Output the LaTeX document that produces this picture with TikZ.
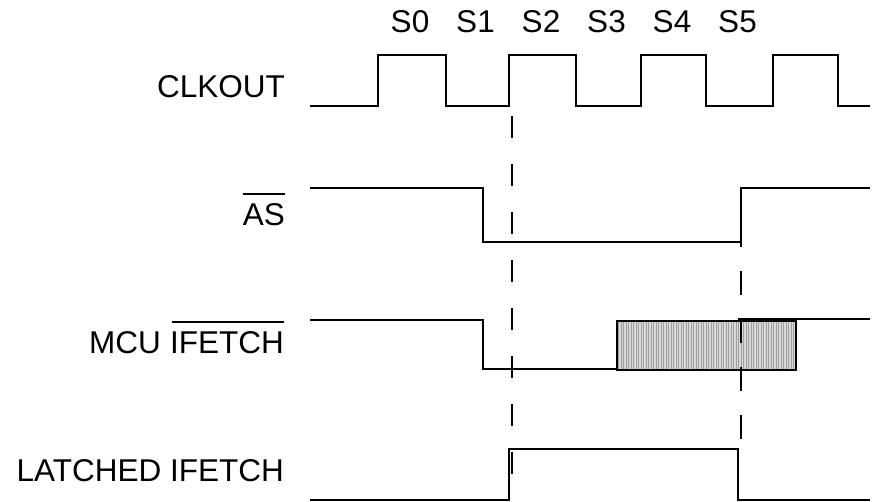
\documentclass[tikz,border=0pt]{standalone}
\usepackage{fontspec}
\setmainfont{Liberation Sans}
\begin{document}
\begin{tikzpicture}[x=1pt,y=-1pt,line join=miter,
  wave/.style={line width=2.2pt},
  boxline/.style={line width=2.6pt},
  guide/.style={line width=2.2pt, dash pattern=on 22pt off 26pt},
  lbl/.style={inner sep=0pt, font=\fontsize{31.5}{36}\selectfont, anchor=base east},
  slbl/.style={inner sep=0pt, font=\fontsize{31.5}{36}\selectfont, anchor=base},
  bar/.style={line width=2pt}]
\useasboundingbox (0,0) rectangle (873,502);

% state labels
\foreach \k in {0,...,5}{
  \node[slbl] (s\k) at ({410+65.5*\k},33) {S\k};
}

% signal names
\node[lbl] (clk) at (285,98) {CLKOUT};
\node[lbl] (as) at (285,226) {AS};
\draw[bar] ([yshift=10pt]as.north west) -- ([yshift=10pt]as.north east);
\node[lbl] (ifetch) at (284,354) {IFETCH};
\node[lbl] (mcu) at ([xshift=-8.8pt]ifetch.base west) {MCU};
\draw[bar] ([yshift=10pt,xshift=2pt]ifetch.north west) -- ([yshift=10pt]ifetch.north east);
\node[lbl] (latched) at (284,482) {LATCHED IFETCH};

% CLKOUT
\draw[wave] (310,106) -- (378,106) -- (378,55) -- (446,55) -- (446,106)
  -- (509,106) -- (509,55) -- (576,55) -- (576,106)
  -- (641,106) -- (641,55) -- (706,55) -- (706,106)
  -- (773,106) -- (773,55) -- (838,55) -- (838,106) -- (870,106);

% AS
\draw[wave] (310,188) -- (483,188) -- (483,242) -- (741,242) -- (741,188) -- (870,188);

% MCU IFETCH
\draw[wave] (310,320) -- (483,320) -- (483,369) -- (617,369);
\fill[gray!30] (617,321) rectangle (796,370);
\foreach \x in {618.5,621,...,795}{
  \draw[gray!75,line width=0.8pt] (\x,321) -- (\x,370);
}
\draw[boxline] (617,321) rectangle (796,370);
\draw[wave] (738,319) -- (870,319);

% LATCHED IFETCH
\draw[wave] (310,500) -- (509,500) -- (509,449) -- (738,449) -- (738,500) -- (870,500);

% guide lines
\coordinate (g1a) at (512,116);
\coordinate (g1b) at (512,474);
\coordinate (g2a) at (741,223);
\coordinate (g2b) at (741,439);
\draw[guide] (g1a) -- (g1b);
\draw[guide, dash pattern=on 24pt off 24pt] (g2a) -- (g2b);
\end{tikzpicture}
\end{document}
